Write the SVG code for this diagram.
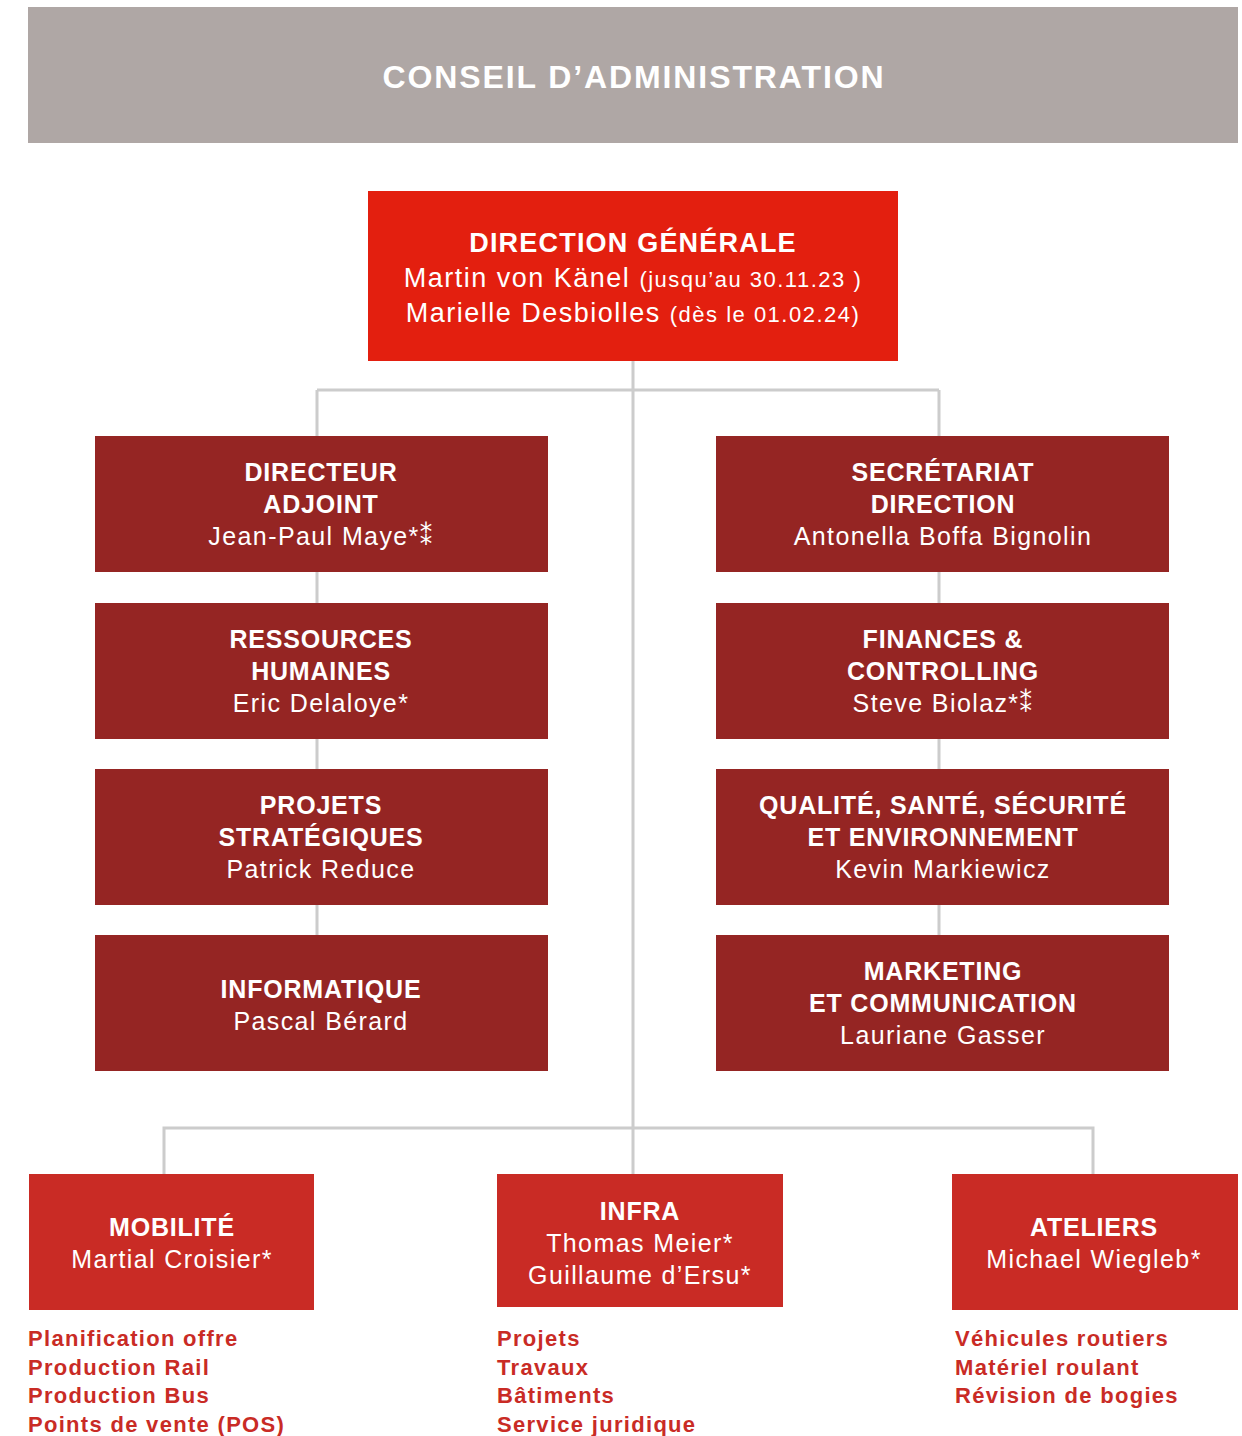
<svg xmlns="http://www.w3.org/2000/svg" width="1242" height="1436" viewBox="0 0 1242 1436">
<style>
text{font-family:"Liberation Sans","DejaVu Sans",sans-serif;fill:#fff;text-anchor:middle}
.t{font-weight:bold;font-size:25px;letter-spacing:0.8px}
.n{font-size:25px;letter-spacing:1.4px}
.dg{fill:#e31f0f}
.dark{fill:#952523}
.red{fill:#c92b25}
.lst{font-weight:bold;font-size:22px;fill:#c92b25;text-anchor:start;letter-spacing:1.3px}
.c{stroke:#cccccc;stroke-width:3;fill:none}
</style>
<rect x="0" y="0" width="1242" height="1436" fill="#ffffff"/>
<g id="conseil">
<rect x="28" y="7" width="1210" height="136" fill="#afa7a5"/>
<text x="634" y="88" style="font-size:32px;font-weight:bold;letter-spacing:1.9px">CONSEIL D’ADMINISTRATION</text>
</g>
<g id="connectors">
<path class="c" d="M633 361V1174"/>
<path class="c" d="M317 390H939"/>
<path class="c" d="M317 390V935"/>
<path class="c" d="M939 390V935"/>
<path class="c" d="M164 1174V1128H1093V1174"/>
</g>
<g id="direction-generale">
<rect class="dg" x="368" y="191" width="530" height="170"/>
<text x="633" y="252" class="t" style="font-size:27px;letter-spacing:1.2px">DIRECTION GÉNÉRALE</text>
<text x="633" y="287" class="n" style="font-size:27px;letter-spacing:1.5px">Martin von Känel <tspan style="font-size:22px">(jusqu’au 30.11.23 )</tspan></text>
<text x="633" y="322" class="n" style="font-size:27px;letter-spacing:1.5px">Marielle Desbiolles <tspan style="font-size:22px">(dès le 01.02.24)</tspan></text>
</g>
<g id="directeur-adjoint">
<rect class="dark" x="95" y="436" width="453" height="136"/>
<text x="321" y="481" class="t">DIRECTEUR</text>
<text x="321" y="513" class="t">ADJOINT</text>
<text x="321" y="545" class="n">Jean-Paul Maye*⁑</text>
</g>
<g id="ressources-humaines">
<rect class="dark" x="95" y="603" width="453" height="136"/>
<text x="321" y="648" class="t">RESSOURCES</text>
<text x="321" y="680" class="t">HUMAINES</text>
<text x="321" y="712" class="n">Eric Delaloye*</text>
</g>
<g id="projets-strategiques">
<rect class="dark" x="95" y="769" width="453" height="136"/>
<text x="321" y="814" class="t">PROJETS</text>
<text x="321" y="846" class="t">STRATÉGIQUES</text>
<text x="321" y="878" class="n">Patrick Reduce</text>
</g>
<g id="informatique">
<rect class="dark" x="95" y="935" width="453" height="136"/>
<text x="321" y="998" class="t">INFORMATIQUE</text>
<text x="321" y="1030" class="n">Pascal Bérard</text>
</g>
<g id="secretariat-direction">
<rect class="dark" x="716" y="436" width="453" height="136"/>
<text x="943" y="481" class="t">SECRÉTARIAT</text>
<text x="943" y="513" class="t">DIRECTION</text>
<text x="943" y="545" class="n">Antonella Boffa Bignolin</text>
</g>
<g id="finances-controlling">
<rect class="dark" x="716" y="603" width="453" height="136"/>
<text x="943" y="648" class="t">FINANCES &amp;</text>
<text x="943" y="680" class="t">CONTROLLING</text>
<text x="943" y="712" class="n">Steve Biolaz*⁑</text>
</g>
<g id="qsse">
<rect class="dark" x="716" y="769" width="453" height="136"/>
<text x="943" y="814" class="t">QUALITÉ, SANTÉ, SÉCURITÉ</text>
<text x="943" y="846" class="t">ET ENVIRONNEMENT</text>
<text x="943" y="878" class="n">Kevin Markiewicz</text>
</g>
<g id="marketing-communication">
<rect class="dark" x="716" y="935" width="453" height="136"/>
<text x="943" y="980" class="t">MARKETING</text>
<text x="943" y="1012" class="t">ET COMMUNICATION</text>
<text x="943" y="1044" class="n">Lauriane Gasser</text>
</g>
<g id="mobilite">
<rect class="red" x="29" y="1174" width="285" height="136"/>
<text x="172" y="1236" class="t">MOBILITÉ</text>
<text x="172" y="1268" class="n">Martial Croisier*</text>
<text x="28" y="1346" class="lst">Planification offre</text>
<text x="28" y="1375" class="lst">Production Rail</text>
<text x="28" y="1403" class="lst">Production Bus</text>
<text x="28" y="1432" class="lst">Points de vente (POS)</text>
</g>
<g id="infra">
<rect class="red" x="497" y="1174" width="286" height="133"/>
<text x="640" y="1220" class="t">INFRA</text>
<text x="640" y="1252" class="n">Thomas Meier*</text>
<text x="640" y="1284" class="n">Guillaume d’Ersu*</text>
<text x="497" y="1346" class="lst">Projets</text>
<text x="497" y="1375" class="lst">Travaux</text>
<text x="497" y="1403" class="lst">Bâtiments</text>
<text x="497" y="1432" class="lst">Service juridique</text>
</g>
<g id="ateliers">
<rect class="red" x="952" y="1174" width="286" height="136"/>
<text x="1094" y="1236" class="t">ATELIERS</text>
<text x="1094" y="1268" class="n">Michael Wiegleb*</text>
<text x="955" y="1346" class="lst">Véhicules routiers</text>
<text x="955" y="1375" class="lst">Matériel roulant</text>
<text x="955" y="1403" class="lst">Révision de bogies</text>
</g>
</svg>
